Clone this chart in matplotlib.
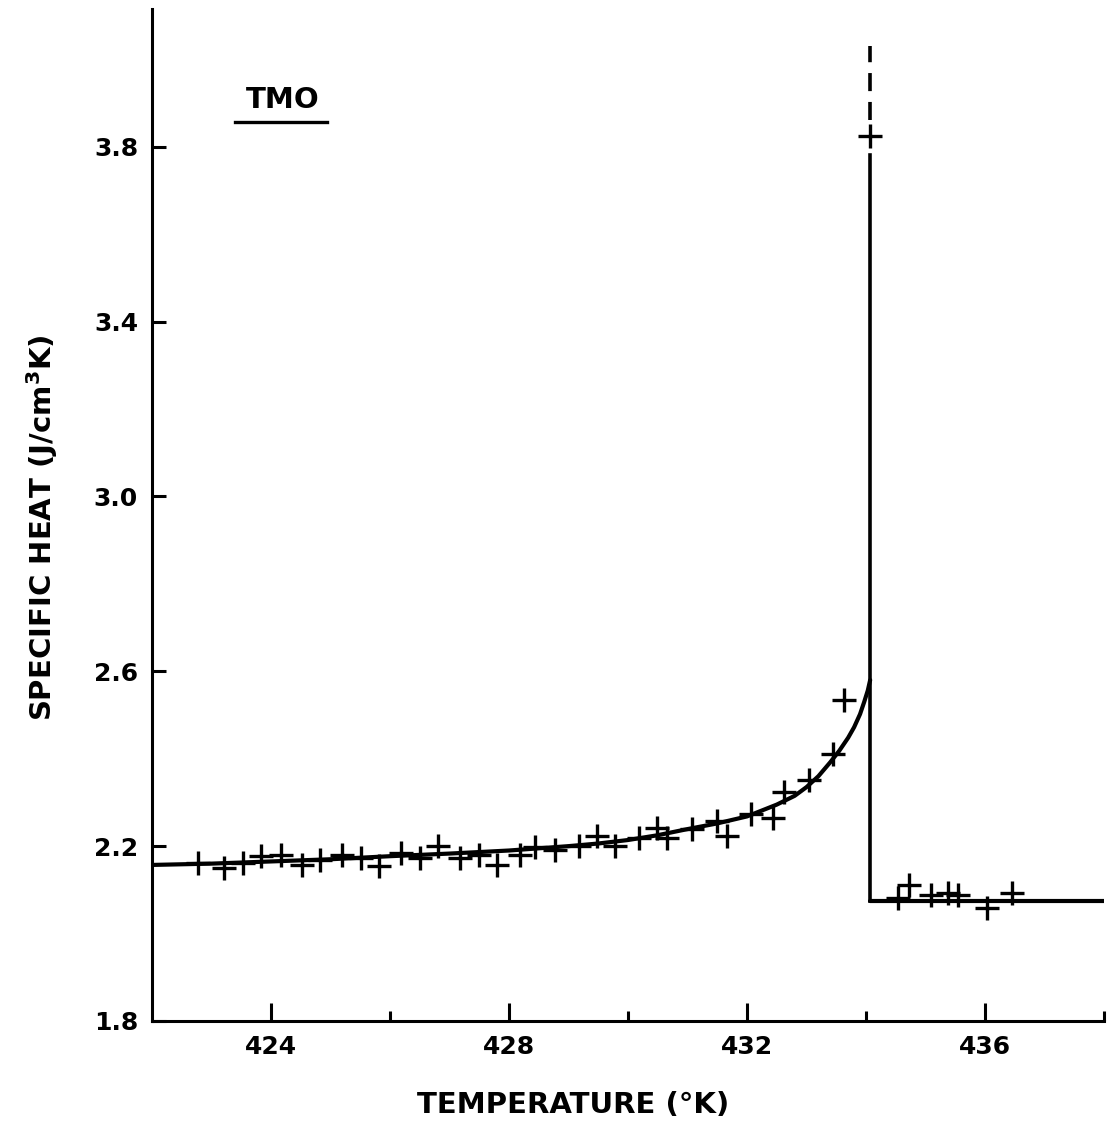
import matplotlib
matplotlib.use("Agg")
import matplotlib.pyplot as plt

# ---- data ----
# measured points (crosses)
meas_T = [422.78, 423.21, 423.53, 423.83, 424.17, 424.52, 424.82, 425.19, 425.51, 425.81,
          426.18, 426.51, 426.81, 427.18, 427.50, 427.80, 428.19, 428.44, 428.77, 429.18,
          429.48, 429.78, 430.18, 430.48, 430.65, 431.07, 431.49, 431.66, 432.07, 432.44,
          432.63, 433.05, 433.45, 433.63, 434.07,
          434.54, 434.72, 435.09, 435.37, 435.54, 436.03, 436.46]
meas_C = [2.161, 2.150, 2.161, 2.177, 2.179, 2.157, 2.168, 2.179, 2.173, 2.154,
          2.184, 2.173, 2.200, 2.173, 2.179, 2.157, 2.179, 2.198, 2.191, 2.200,
          2.223, 2.200, 2.218, 2.241, 2.218, 2.239, 2.257, 2.223, 2.273, 2.264,
          2.323, 2.351, 2.410, 2.534, 3.825,
          2.081, 2.111, 2.088, 2.093, 2.088, 2.058, 2.093]

# fitted curve below the transition
fit_T = [422.0, 423.0, 424.0, 425.0, 426.0, 427.0, 428.0, 429.0, 429.5, 430.0,
         430.5, 431.0, 431.5, 432.0, 432.5, 432.8, 433.0, 433.2, 433.4, 433.55,
         433.7, 433.8, 433.9, 433.97, 434.03, 434.07]
fit_C = [2.157, 2.160, 2.165, 2.170, 2.177, 2.183, 2.190, 2.200, 2.206, 2.214,
         2.225, 2.239, 2.252, 2.268, 2.295, 2.315, 2.335, 2.360, 2.392, 2.418,
         2.448, 2.472, 2.502, 2.530, 2.556, 2.580]

# transition and high-temperature level
Tc = 434.07
high_T = [434.07, 438.0]
high_C = [2.074, 2.074]
jump_solid = [2.074, 3.78]
jump_dash = [3.86, 4.03]

xmajor = [424, 428, 432, 436]
xminor = [426, 430, 434, 438]
yticks = [1.8, 2.2, 2.6, 3.0, 3.4, 3.8]
ytick_labels = ["1.8", "2.2", "2.6", "3.0", "3.4", "3.8"]

# ---- figure ----
W, H = 1111, 1137
fig = plt.figure(figsize=(W / 100, H / 100), dpi=100)
ax = fig.add_axes([152 / W, 1 - 1021 / H, (1104 - 152) / W, (1021 - 9) / H])

ax.set_xlim(422, 438)
ax.set_ylim(1.8, 4.115)

lw_axis = 2.2
for s in ["top", "right"]:
    ax.spines[s].set_visible(False)
for s in ["left", "bottom"]:
    ax.spines[s].set_linewidth(lw_axis)

ax.set_xticks(xmajor)
ax.set_xticks(xminor, minor=True)
ax.set_xticklabels([str(v) for v in xmajor])
ax.set_yticks(yticks)
ax.set_yticklabels(ytick_labels)
ax.tick_params(axis="x", which="major", direction="in", length=13, width=lw_axis, pad=10,
               labelsize=18)
ax.tick_params(axis="x", which="minor", direction="in", length=7, width=lw_axis)
ax.tick_params(axis="y", which="major", direction="in", length=10, width=lw_axis, pad=10,
               labelsize=18)
for lab in ax.get_xticklabels() + ax.get_yticklabels():
    lab.set_fontweight("bold")

# curve
ax.plot(fit_T, fit_C, color="black", lw=3.0, solid_capstyle="round",
        solid_joinstyle="round", zorder=3)
ax.plot(high_T, high_C, color="black", lw=3.0, solid_capstyle="round", zorder=3)
ax.plot([Tc, Tc], jump_solid, color="black", lw=2.6, zorder=3)
ax.plot([Tc, Tc], jump_dash, color="black", lw=2.6, linestyle=(0, (5, 3)), zorder=3)

# data points
ax.plot(meas_T, meas_C, linestyle="none", marker="+", markersize=17, mew=2.4,
        color="black", zorder=4)

# texts
fig.text(283 / W, 1 - 100 / H, "TMO", ha="center", va="center", fontsize=21,
         fontweight="bold")
fig.add_artist(plt.Line2D([235 / W, 327 / W], [1 - 122 / H, 1 - 122 / H],
                          color="black", lw=2.4, transform=fig.transFigure))
fig.text(573 / W, 1 - 1105 / H, "TEMPERATURE (°K)", ha="center", va="center",
         fontsize=21, fontweight="bold")
fig.text(42 / W, 1 - 528 / H, "SPECIFIC HEAT (J/cm$^\\mathbf{3}$K)", ha="center",
         va="center", rotation=90, fontsize=21, fontweight="bold")

fig.savefig("out.png", dpi=100, facecolor="white")
